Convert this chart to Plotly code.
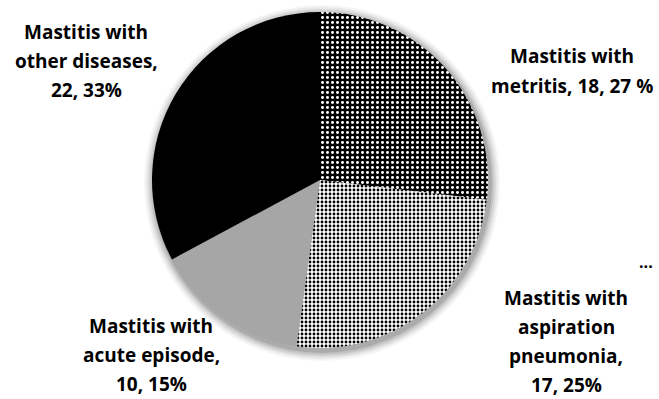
import plotly.graph_objects as go

# Mastitis cases grouped by accompanying condition
categories = ["metritis", "aspiration pneumonia", "acute episode", "other diseases"]
counts = [18, 17, 10, 22]
percent_labels = ["27 %", "25%", "15%", "33%"]
label_lines = [
    ["Mastitis with", "metritis, {n}, {p}"],
    ["Mastitis with", "aspiration", "pneumonia,", "{n}, {p}"],
    ["Mastitis with", "acute episode,", "{n}, {p}"],
    ["Mastitis with", "other diseases,", "{n}, {p}"],
]

W, H = 659, 399
cx, cy, r = 320, 180, 168  # pie centre / radius in pixels

def px(x):
    return x / W

def py(y):
    return 1 - y / H

patterns = [
    dict(shape=".", fgcolor="white", bgcolor="black", size=5, solidity=0.28),
    dict(shape=".", fgcolor="black", bgcolor="white", size=4, solidity=0.4),
    dict(shape="", bgcolor="#a6a6a6"),
    dict(shape="", bgcolor="black"),
]
colors = ["black", "white", "#a6a6a6", "black"]

fig = go.Figure(go.Pie(
    labels=categories,
    values=counts,
    sort=False,
    direction="clockwise",
    rotation=0,
    textinfo="none",
    hoverinfo="label+value+percent",
    marker=dict(colors=colors, line=dict(width=0),
                pattern=dict(
                    shape=[p["shape"] for p in patterns],
                    fgcolor=[p.get("fgcolor", "black") for p in patterns],
                    bgcolor=[p["bgcolor"] for p in patterns],
                    size=[p.get("size", 5) for p in patterns],
                    solidity=[p.get("solidity", 0.3) for p in patterns],
                )),
    domain=dict(x=[px(cx - r), px(cx + r)], y=[py(cy + r), py(cy - r)]),
    showlegend=False,
))

# soft shadow around the pie
shapes = []
for grow, op in [(10, 0.04), (8, 0.05), (6, 0.07), (4, 0.09), (2, 0.12)]:
    ox, oy = 2, 3
    shapes.append(dict(
        type="circle", xref="paper", yref="paper", layer="below",
        x0=px(cx + ox - r - grow), x1=px(cx + ox + r + grow),
        y0=py(cy + oy + r + grow), y1=py(cy + oy - r - grow),
        fillcolor=f"rgba(0,0,0,{op})", line=dict(width=0),
    ))

# label blocks: pixel centre of each block, one annotation per line
label_pos = [(572, 71), (566, 341), (151, 355), (86, 61)]
line_gap = 29
annotations = []
for lines, n, p, (x, y) in zip(label_lines, counts, percent_labels, label_pos):
    y_top = y - line_gap * (len(lines) - 1) / 2
    for k, line in enumerate(lines):
        annotations.append(dict(
            text="<b>" + line.format(n=n, p=p) + "</b>",
            x=px(x), y=py(y_top + k * line_gap), xref="paper", yref="paper",
            showarrow=False, xanchor="center", yanchor="middle",
            font=dict(family="Open Sans", size=19, color="black"),
        ))
annotations.append(dict(
    text="<b>...</b>", x=px(646), y=py(262), xref="paper", yref="paper",
    showarrow=False, xanchor="center", yanchor="middle",
    font=dict(family="Open Sans", size=16, color="black"),
))

fig.update_layout(
    width=W, height=H,
    margin=dict(l=0, r=0, t=0, b=0),
    paper_bgcolor="white", plot_bgcolor="white",
    shapes=shapes, annotations=annotations,
)

fig.write_html("out.html")
